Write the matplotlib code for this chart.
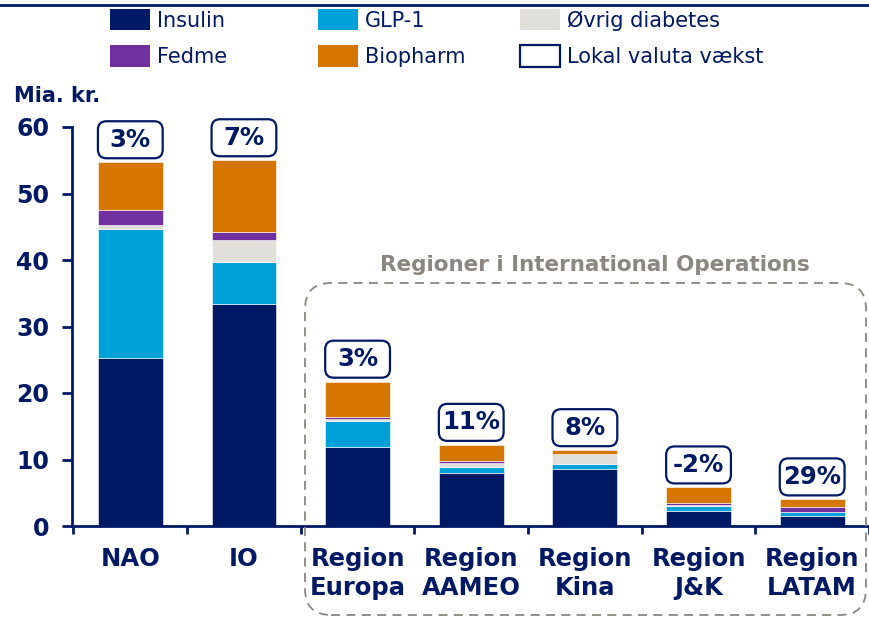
import matplotlib
matplotlib.use("Agg")
import matplotlib.pyplot as plt
import numpy as np
from matplotlib.patches import FancyBboxPatch, Patch
from matplotlib.lines import Line2D

categories = ["NAO", "IO", "Region\nEuropa", "Region\nAAMEO", "Region\nKina", "Region\nJ&K", "Region\nLATAM"]
insulin = [25.3, 33.4, 11.9, 7.9, 8.6, 2.2, 1.5]
glp1 = [19.3, 6.3, 3.9, 1.0, 0.75, 0.85, 0.6]
oevrig = [0.6, 3.3, 0.3, 0.6, 1.5, 0.1, 0.05]
fedme = [2.3, 1.2, 0.3, 0.3, 0.05, 0.25, 0.65]
biopharm = [7.2, 10.8, 5.3, 2.4, 0.5, 2.4, 1.2]
growth = ["3%", "7%", "3%", "11%", "8%", "-2%", "29%"]
yticks = [0, 10, 20, 30, 40, 50, 60]

NAVY = "#001965"
colors = {"Insulin": NAVY, "GLP-1": "#00a0d8", "Øvrig diabetes": "#e0dfda",
          "Fedme": "#7030a0", "Biopharm": "#d47600"}

W, H = 869, 619
fig = plt.figure(figsize=(W / 100, H / 100), dpi=100)
ax = fig.add_axes([72 / W, 1 - 526 / H, 1 - 72 / W, (526 - 127) / H])

x = np.arange(len(categories))
BW = 0.57
series = [("Insulin", insulin), ("GLP-1", glp1), ("Øvrig diabetes", oevrig),
          ("Fedme", fedme), ("Biopharm", biopharm)]
bottom = np.zeros(len(categories))
for name, vals in series:
    v = np.array(vals)
    ax.bar(x, v, BW, bottom=bottom, color=colors[name], edgecolor="white", linewidth=0.4)
    bottom += v

ax.set_xlim(-0.513, 6.42)
ax.set_ylim(0, 60)

# growth label boxes (fixed width = bar width)
px_x = (W - 72) / (6.42 + 0.513)   # pixels per x unit
px_y = (526 - 127) / 60.0          # pixels per y unit
gap, bh = 4 / px_y, 37 / px_y
for xi, tot, g in zip(x, bottom, growth):
    b = FancyBboxPatch((xi - BW / 2, tot + gap), BW, bh,
                       boxstyle="round,pad=0,rounding_size=0.075",
                       mutation_aspect=px_x / px_y, fc="white", ec=NAVY, lw=1.6,
                       clip_on=False, zorder=3)
    ax.add_patch(b)
    ax.text(xi, tot + gap + bh / 2, g, ha="center", va="center", fontsize=17.5,
            fontweight="bold", color=NAVY, zorder=4)

ax.set_yticks(yticks)
ax.set_xticks(x)
ax.set_xticklabels(categories, fontsize=17.5, fontweight="bold", color=NAVY, linespacing=1.25)
ax.set_xticks(np.arange(-0.5, 6.6, 1), minor=True)
ax.tick_params(axis="x", which="major", length=0, pad=15)
ax.tick_params(axis="x", which="minor", length=6, width=2, color=NAVY, direction="out")
ax.tick_params(axis="y", length=7, width=2, color=NAVY, direction="out", pad=9.5,
               labelsize=17, labelcolor=NAVY)
for lab in ax.get_yticklabels():
    lab.set_fontweight("bold")
for s in ["top", "right"]:
    ax.spines[s].set_visible(False)
for s in ["left", "bottom"]:
    ax.spines[s].set_color(NAVY)
    ax.spines[s].set_linewidth(2)

fig.text(14 / W, 1 - 96 / H, "Mia. kr.", fontsize=15, fontweight="bold", color=NAVY,
         ha="left", va="center")

# dashed region box
x0, x1, y0, y1 = 305 / W, 866 / W, 1 - 615 / H, 1 - 283 / H
box = FancyBboxPatch((x0, y0), x1 - x0, y1 - y0, transform=fig.transFigure,
                     boxstyle="round,pad=0,rounding_size=0.03", mutation_aspect=W / H,
                     fc="none", ec="#8c8680", lw=1.3, ls=(0, (5, 3.5)), zorder=0)
fig.patches.append(box)
fig.text(595 / W, 1 - 265 / H, "Regioner i International Operations", fontsize=15.5,
         fontweight="bold", color="#8c8680", ha="center", va="center")

# top rule
fig.add_artist(Line2D([0, 1], [1 - 5 / H, 1 - 5 / H], transform=fig.transFigure,
                      color=NAVY, lw=2))

# legend: three columns placed individually
cols = [
    ([Patch(fc=colors["Insulin"]), Patch(fc=colors["Fedme"])], ["Insulin", "Fedme"], 110),
    ([Patch(fc=colors["GLP-1"]), Patch(fc=colors["Biopharm"])], ["GLP-1", "Biopharm"], 318),
    ([Patch(fc=colors["Øvrig diabetes"]),
      FancyBboxPatch((0, 0), 1, 1, boxstyle="round,pad=0,rounding_size=4",
                     fc="white", ec=NAVY, lw=1.6)],
     ["Øvrig diabetes", "Lokal valuta vækst"], 520),
]
fs = 15
for hs, ls_, xpx in cols:
    lg = fig.legend(hs, ls_, loc="upper left", bbox_to_anchor=(xpx / W, 1 - 9 / H),
                    frameon=False, fontsize=fs, handlelength=1.92, handleheight=1.2,
                    handletextpad=0.35, labelspacing=0.7, borderpad=0, borderaxespad=0)
    for t in lg.get_texts():
        t.set_color(NAVY)

fig.savefig("out.png", dpi=100)
